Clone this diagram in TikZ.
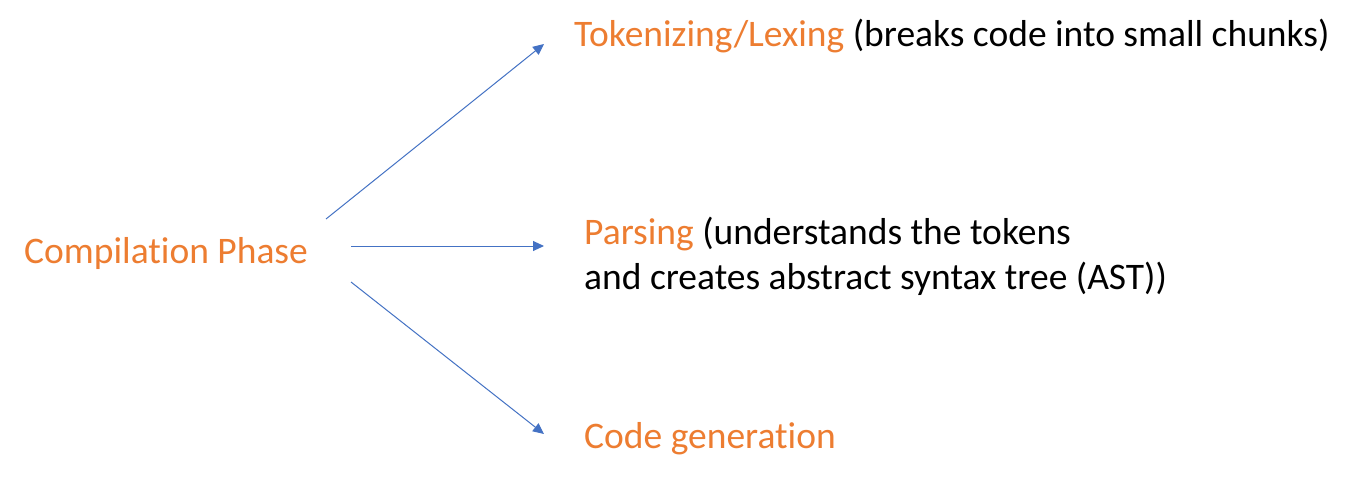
\documentclass[tikz,border=0pt]{standalone}
\usepackage{fontspec}
\setmainfont{Carlito}[Ligatures=NoCommon]
\usetikzlibrary{arrows.meta}
\definecolor{orng}{HTML}{ED7D31}
\definecolor{blu}{HTML}{4472C4}
\begin{document}
\begin{tikzpicture}[x=1pt,y=-1pt,
  lbl/.style={inner sep=0pt,anchor=base west,font=\fontsize{37.5}{45}\selectfont,align=left},
  conn/.style={draw=blu,line width=1pt,-{Triangle[length=11pt,width=10pt]}}]
\useasboundingbox[fill=white] (0,0) rectangle (1354,481);
\node[lbl,text=orng] (cp) at (24,263) {Compilation Phase};
\node[lbl] (tok) at (574,47) {\textcolor{orng}{Tokenizing/Lexing} (breaks code into small chunks)};
\node[lbl] (par) at (584,289) {\textcolor{orng}{Parsing} (understands the tokens\\and creates abstract syntax tree (AST))};
\node[lbl,text=orng] (cg) at (584,448) {Code generation};
\coordinate (s1) at (326,219);
\coordinate (e1) at (544,44);
\coordinate (s2) at (351,246);
\coordinate (e2) at (544,246);
\coordinate (s3) at (351,282);
\coordinate (e3) at (544,434);
\draw[conn] (s1) -- (e1);
\draw[conn] (s2) -- (e2);
\draw[conn] (s3) -- (e3);
\end{tikzpicture}
\end{document}
